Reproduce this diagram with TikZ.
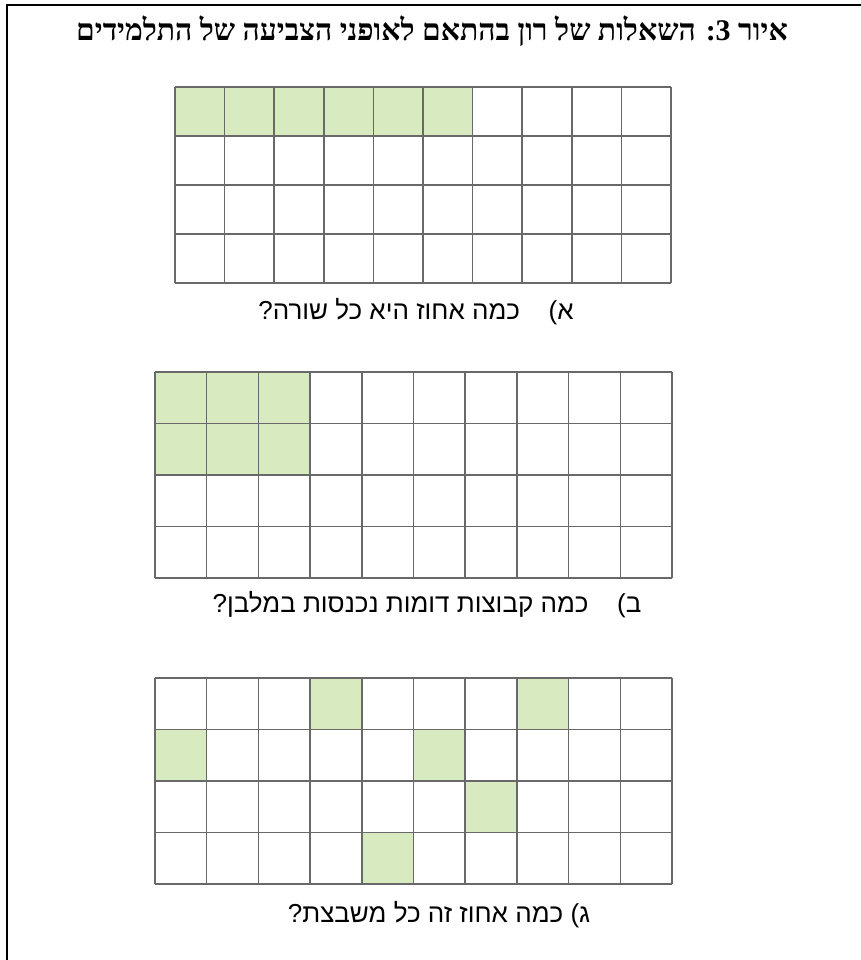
\documentclass[tikz,border=0pt]{standalone}
\usepackage{fontspec}
\TeXXeTstate=1
\newfontfamily\hebtitle[Script=Hebrew]{Liberation Serif}
\newfontfamily\hebcap[Script=Hebrew]{Liberation Sans}
\definecolor{gridgray}{RGB}{105,105,105}
\definecolor{cellgreen}{RGB}{216,235,192}
\newcommand{\drawgrid}[4]{% x0, y0, cellw, cellh
  \foreach \i in {0,...,10} {\draw[gridline] ({#1+\i*#3},#2) -- ({#1+\i*#3},{#2+4*#4});}
  \foreach \j in {0,...,4} {\draw[gridline] (#1,{#2+\j*#4}) -- ({#1+10*#3},{#2+\j*#4});}
}
\newcommand{\shadecell}[6]{% x0,y0,w,h,col,row (1-indexed)
  \fill[greencell] ({#1+(#5-1)*#3},{#2+(#6-1)*#4}) rectangle ({#1+#5*#3},{#2+#6*#4});
}
\begin{document}
\begin{tikzpicture}[x=1pt,y=-1pt,
  gridline/.style={draw=gridgray,line width=1.5pt},
  greencell/.style={fill=cellgreen},
  frameline/.style={draw=black,line width=2.5pt},
  titletext/.style={font=\hebtitle\bfseries\fontsize{30}{34}\selectfont},
  captext/.style={font=\hebcap\fontsize{26}{30}\selectfont}]
\useasboundingbox (0,0) rectangle (861,960);
\fill[white] (0,0) rectangle (861,960);
\draw[frameline] (7,962) -- (7,5) -- (863,5);
\node[titletext] (title) at (432,31) {\beginR איור 3: השאלות של רון בהתאם לאופני הצביעה של התלמידים\endR};
% grid 1
\foreach \c in {1,...,6} {\shadecell{175}{87}{49.6}{49}{\c}{1}}
\drawgrid{175}{87}{49.6}{49}
\node[captext] (capa) at (416,312) {\beginR א)\hspace{1.1em}כמה אחוז היא כל שורה?\endR};
% grid 2
\foreach \c in {1,2,3} {\foreach \r in {1,2} {\shadecell{155}{372}{51.7}{51.5}{\c}{\r}}}
\drawgrid{155}{372}{51.7}{51.5}
\node[captext] (capb) at (427,605) {\beginR ב)\hspace{1.1em}כמה קבוצות דומות נכנסות במלבן?\endR};
% grid 3
\shadecell{155}{678}{51.7}{51.5}{4}{1}
\shadecell{155}{678}{51.7}{51.5}{8}{1}
\shadecell{155}{678}{51.7}{51.5}{1}{2}
\shadecell{155}{678}{51.7}{51.5}{6}{2}
\shadecell{155}{678}{51.7}{51.5}{7}{3}
\shadecell{155}{678}{51.7}{51.5}{5}{4}
\drawgrid{155}{678}{51.7}{51.5}
\node[captext] (capc) at (439,915) {\beginR ג) כמה אחוז זה כל משבצת?\endR};
\end{tikzpicture}
\end{document}
